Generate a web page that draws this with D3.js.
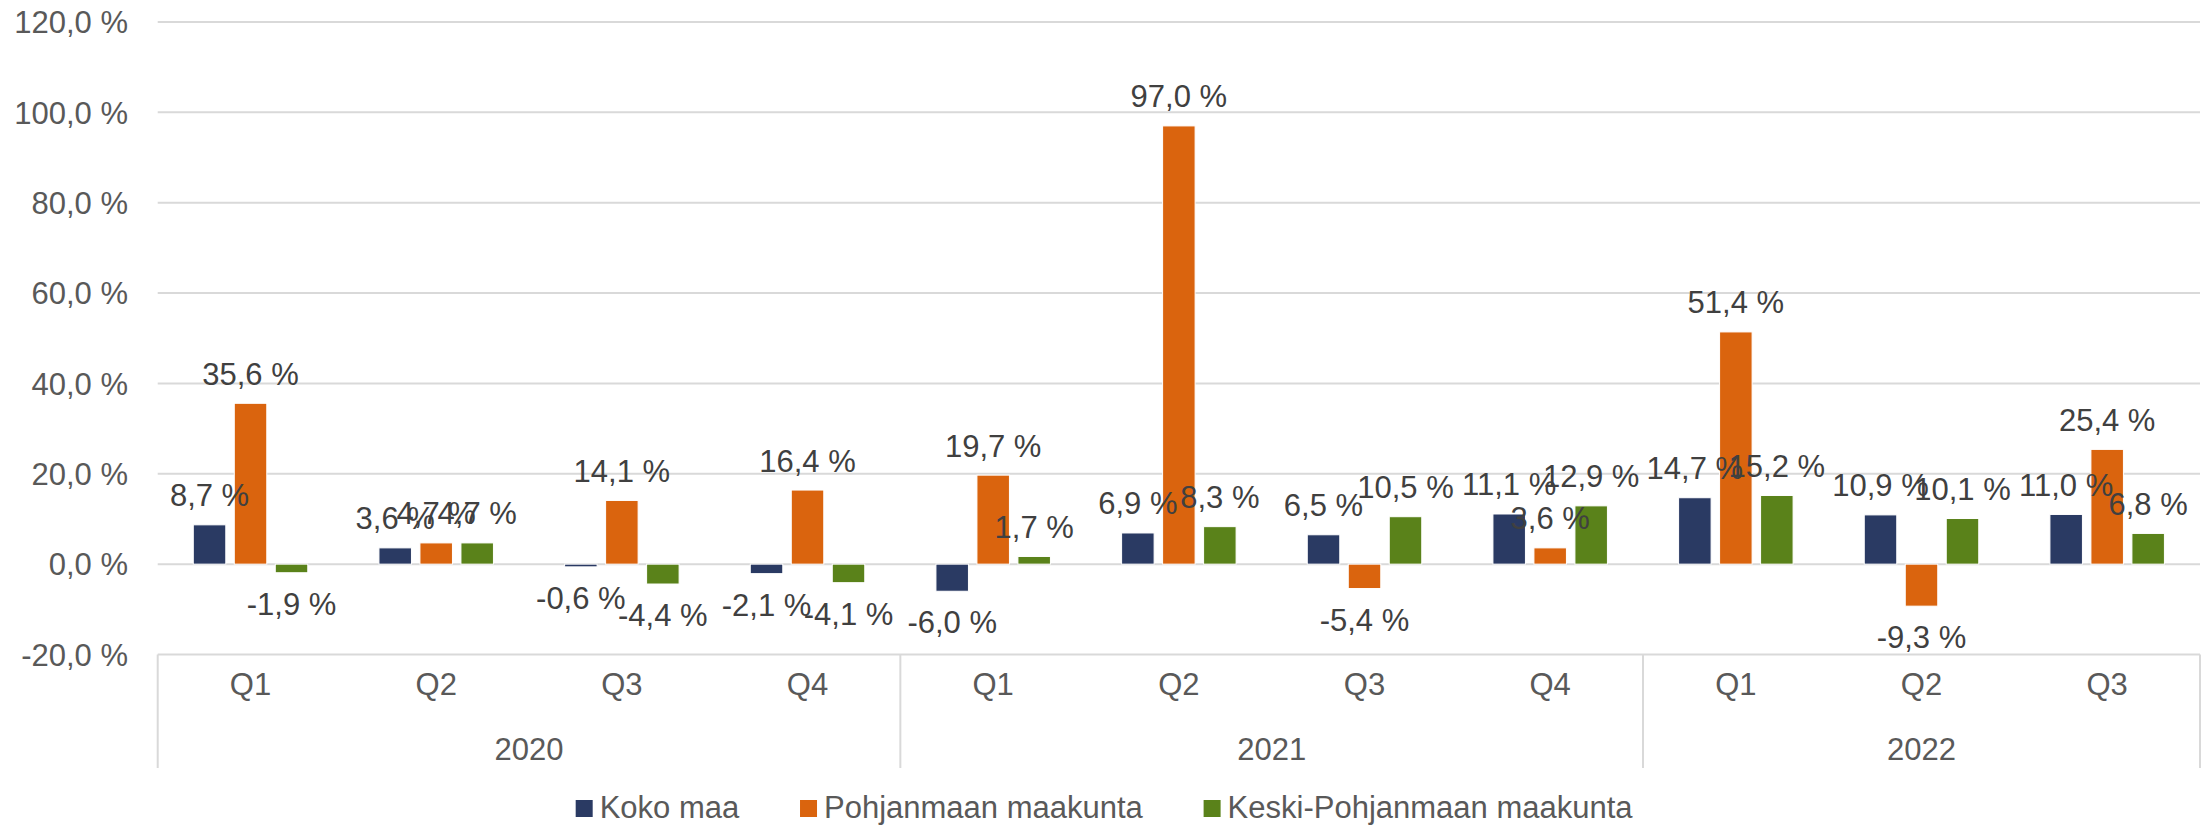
<!DOCTYPE html>
<html lang="fi">
<head>
<meta charset="utf-8">
<title>Muutos</title>
<script src="https://cdnjs.cloudflare.com/ajax/libs/d3/7.8.5/d3.min.js"></script>
<style>
    body { margin: 0; background: #fff; }
    svg text { font-family: "Liberation Sans", Arial, sans-serif; }
</style>
</head>
<body>
<div id="chart"></div>
<script>
    // data
    var years = ["2020", "2021", "2022"];
    var quarters = [
        ["Q1", "Q2", "Q3", "Q4"],
        ["Q1", "Q2", "Q3", "Q4"],
        ["Q1", "Q2", "Q3"]
    ];
    var seriesNames = ["Koko maa", "Pohjanmaan maakunta", "Keski-Pohjanmaan maakunta"];
    var kokoMaa = [8.7, 3.6, -0.6, -2.1, -6.0, 6.9, 6.5, 11.1, 14.7, 10.9, 11.0];
    var pohjanmaa = [35.6, 4.7, 14.1, 16.4, 19.7, 97.0, -5.4, 3.6, 51.4, -9.3, 25.4];
    var keskiPohjanmaa = [-1.9, 4.7, -4.4, -4.1, 1.7, 8.3, 10.5, 12.9, 15.2, 10.1, 6.8];
    var yTicks = [-20, 0, 20, 40, 60, 80, 100, 120];
    var colors = ["#2A3A63", "#DA640E", "#5A821A"];

    var W = 2209, H = 825;
    var plotLeft = 157.7, plotRight = 2200, plotTop = 22, plotBottom = 654.5;

    // build category list
    var cats = [];
    quarters.forEach(function (qs, yi) {
        qs.forEach(function (q) { cats.push({ year: years[yi], q: q, id: years[yi] + q }); });
    });
    var values = [kokoMaa, pohjanmaa, keskiPohjanmaa];

    var svg = d3.select("#chart").append("svg")
        .attr("width", W).attr("height", H);

    var x = d3.scaleBand().domain(cats.map(d => d.id)).range([plotLeft, plotRight]).padding(0);
    var xs = d3.scaleBand().domain(seriesNames).range([0, x.bandwidth()])
        .paddingInner(0.207).paddingOuter(0.868);
    var y = d3.scaleLinear().domain([-20, 120]).range([plotBottom, plotTop]);

    var fmt = v => d3.format(".1f")(v).replace(".", ",").replace("−", "-") + " %";

    // gridlines
    svg.append("g").selectAll("line")
        .data(yTicks)
        .enter().append("line")
        .attr("x1", plotLeft).attr("x2", plotRight)
        .attr("y1", d => y(d)).attr("y2", d => y(d))
        .style("stroke", "#D9D9D9").style("stroke-width", 2);

    // y tick labels
    svg.append("g").selectAll("text")
        .data(yTicks)
        .enter().append("text")
        .attr("x", 128).attr("y", d => y(d)).attr("dy", "0.36em")
        .style("text-anchor", "end").style("font-size", "31px").style("fill", "#595959")
        .text(d => fmt(d));

    // bars
    var groups = svg.append("g").selectAll("g.cat")
        .data(cats)
        .enter().append("g").attr("class", "cat")
        .attr("transform", d => "translate(" + x(d.id) + ",0)");

    groups.each(function (c, ci) {
        var g = d3.select(this);
        var rows = seriesNames.map((s, si) => ({ s: s, si: si, v: values[si][ci] }));
        g.selectAll("rect").data(rows).enter().append("rect")
            .attr("x", d => xs(d.s))
            .attr("width", xs.bandwidth())
            .attr("y", d => y(Math.max(0, d.v)))
            .attr("height", d => Math.abs(y(d.v) - y(0)))
            .style("fill", d => colors[d.si])
            .style("stroke", "#fff").style("stroke-width", 1);
    });

    // labels drawn after all bars
    groups.each(function (c, ci) {
        var g = d3.select(this);
        var rows = seriesNames.map((s, si) => ({ s: s, si: si, v: values[si][ci] }));
        g.selectAll("text.lbl").data(rows).enter().append("text")
            .attr("class", "lbl")
            .attr("x", d => xs(d.s) + xs.bandwidth() / 2)
            .attr("y", d => d.v >= 0 ? y(d.v) - 18.5 : y(d.v) + 42)
            .style("text-anchor", "middle").style("font-size", "31px").style("fill", "#404040")
            .text(d => fmt(d.v));
    });

    // category axis box
    var axisBottom = 768;
    var axis = svg.append("g");
    axis.selectAll("text.q").data(cats).enter().append("text")
        .attr("class", "q")
        .attr("x", d => x(d.id) + x.bandwidth() / 2).attr("y", 695)
        .style("text-anchor", "middle").style("font-size", "31px").style("fill", "#595959")
        .text(d => d.q);

    var yearSpans = years.map(function (yr) {
        var ids = cats.filter(c => c.year === yr).map(c => c.id);
        return { year: yr, x0: x(ids[0]), x1: x(ids[ids.length - 1]) + x.bandwidth() };
    });
    axis.selectAll("text.yr").data(yearSpans).enter().append("text")
        .attr("class", "yr")
        .attr("x", d => (d.x0 + d.x1) / 2).attr("y", 760)
        .style("text-anchor", "middle").style("font-size", "31px").style("fill", "#595959")
        .text(d => d.year);

    var seps = [plotLeft].concat(yearSpans.map(d => d.x1));
    axis.selectAll("line.sep").data(seps).enter().append("line")
        .attr("class", "sep")
        .attr("x1", d => d).attr("x2", d => d)
        .attr("y1", plotBottom).attr("y2", axisBottom)
        .style("stroke", "#D9D9D9").style("stroke-width", 2);

    // legend
    var legend = svg.append("g");
    var items = legend.selectAll("g").data(seriesNames).enter().append("g");
    items.append("rect").attr("width", 17).attr("height", 17).attr("y", 800)
        .style("fill", (d, i) => colors[i]);
    items.append("text").attr("x", 24).attr("y", 818)
        .style("font-size", "31px").style("fill", "#595959")
        .text(d => d);
    var pos = 0;
    items.each(function () {
        var w = this.getBBox().width;
        d3.select(this).attr("data-x", pos);
        pos += w + 60;
    });
    var total = pos - 60;
    var start = W / 2 - total / 2;
    items.attr("transform", function () {
        return "translate(" + (start + (+d3.select(this).attr("data-x"))) + ",0)";
    });
</script>
</body>
</html>
